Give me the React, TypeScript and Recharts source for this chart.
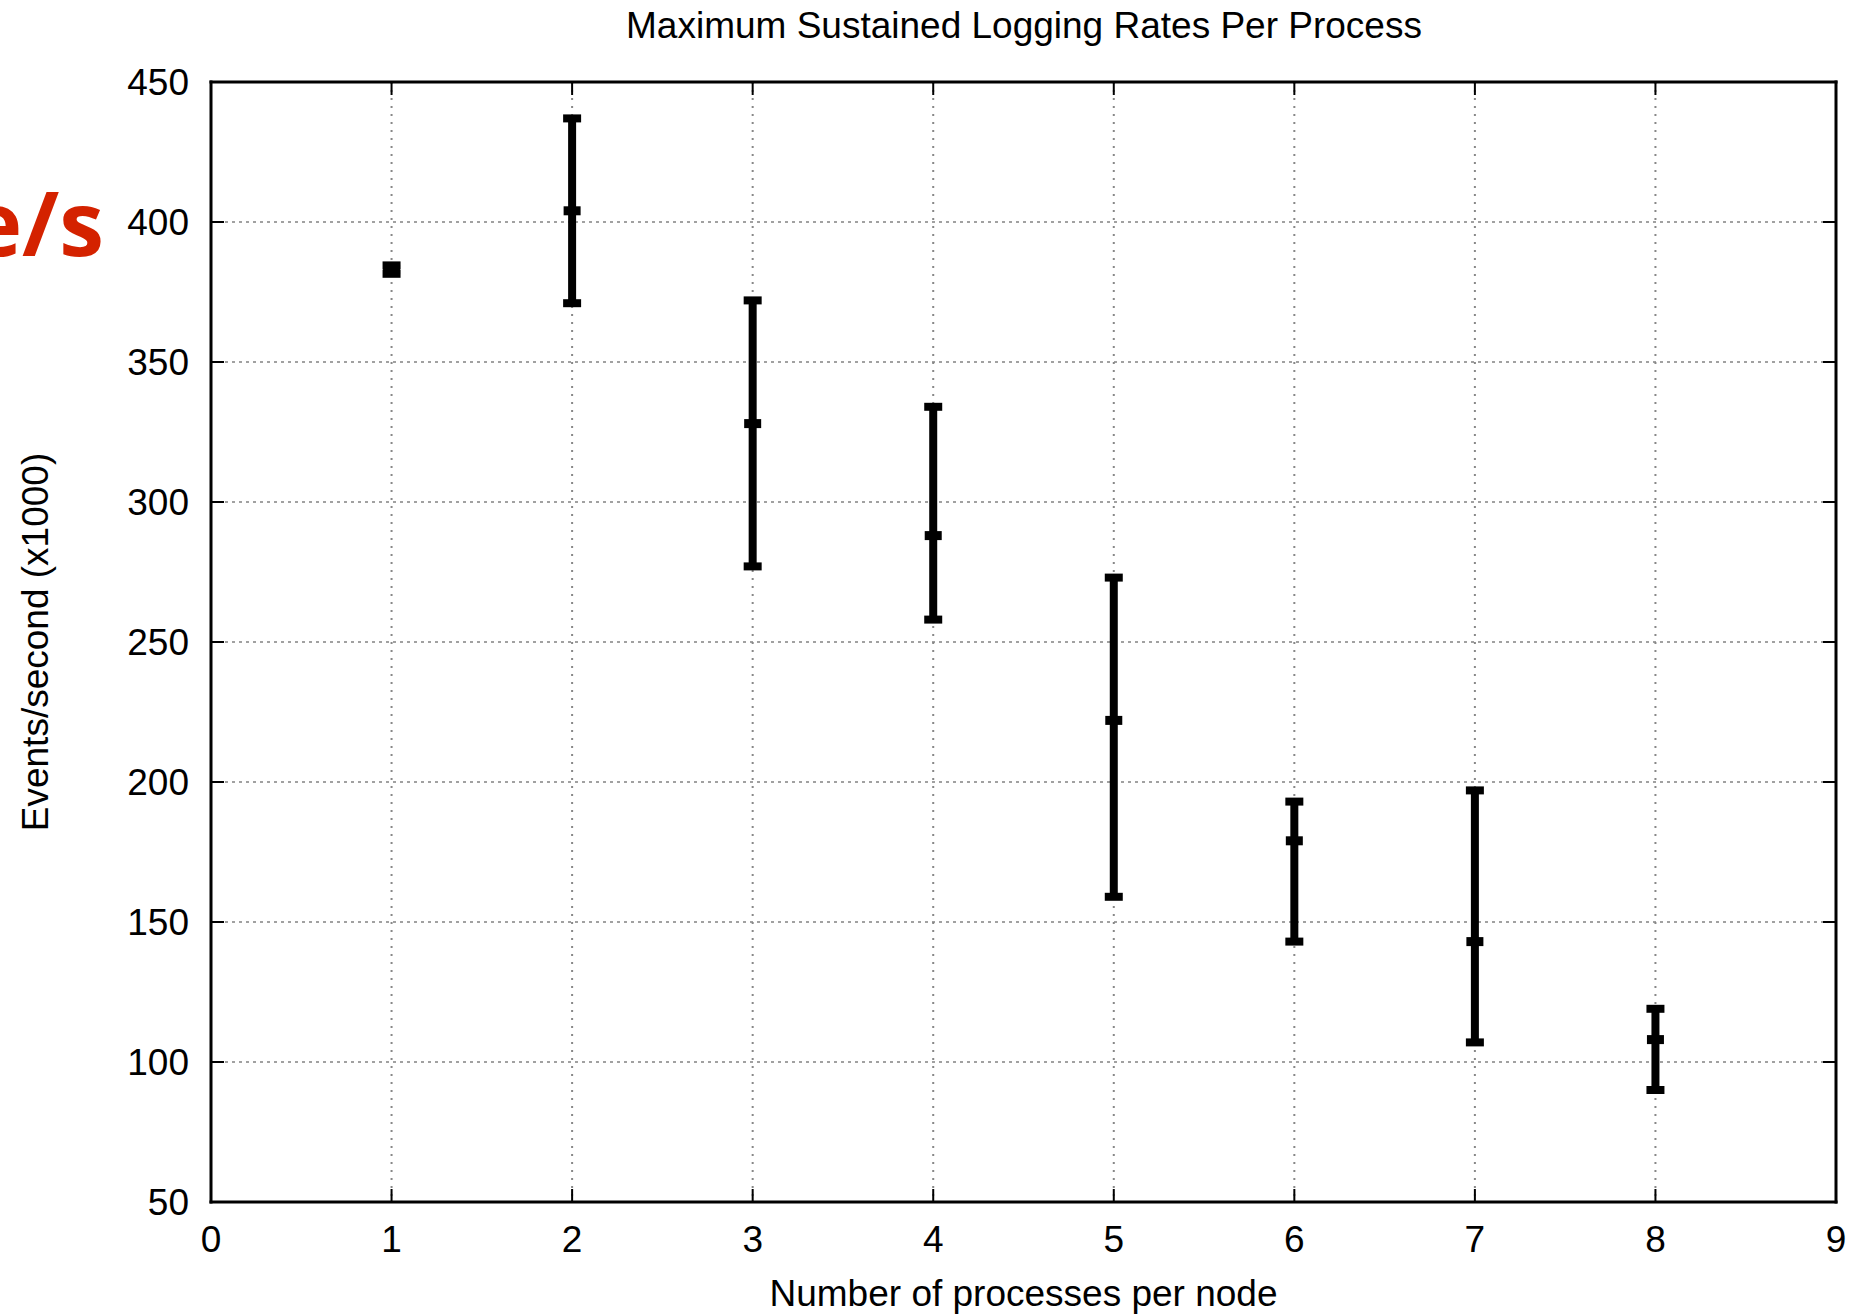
import { CartesianGrid, ComposedChart, ErrorBar, Scatter, XAxis, YAxis } from "recharts"

const processes = [1, 2, 3, 4, 5, 6, 7, 8]
const meanRate = [383, 404, 328, 288, 222, 179, 143, 108]
const minRate = [381.5, 371, 277, 258, 159, 143, 107, 90]
const maxRate = [384.5, 437, 372, 334, 273, 193, 197, 119]

const xTicks = [0, 1, 2, 3, 4, 5, 6, 7, 8, 9]
const yTicks = [50, 100, 150, 200, 250, 300, 350, 400, 450]

const title = "Maximum Sustained Logging Rates Per Process"
const xLabel = "Number of processes per node"
const yLabel = "Events/second (x1000)"

const data = processes.map((p, i) => ({
  x: p,
  y: meanRate[i],
  err: [meanRate[i] - minRate[i], maxRate[i] - meanRate[i]],
}))

const font = "'Liberation Sans', Arial, Helvetica, sans-serif"
const tickStyle = { fontSize: 37, fill: "#000", fontFamily: font }
const edge = { stroke: "#000", strokeWidth: 3, strokeLinecap: "square" as const }
const innerTick = { stroke: "#000", strokeWidth: 2 }
const blank = () => ""

const MeanMark = (props: any) => {
  const { cx, cy } = props
  if (cx == null || cy == null) return <g />
  return <rect x={cx - 8.5} y={cy - 4.5} width={17} height={9} fill="#000" />
}

const Nothing = () => <g />

export default function App() {
  return (
    <div style={{ position: "absolute", left: 0, top: 0, background: "#fff" }}>
      <ComposedChart
        width={1853}
        height={1316}
        data={data}
        margin={{ top: 82, right: 17, bottom: 0, left: 0 }}
      >
        <text
          x={1024}
          y={38}
          textAnchor="middle"
          fontSize={37}
          fontFamily={font}
          fill="#000"
        >
          {title}
        </text>
        <text
          x={104}
          y={256}
          textAnchor="end"
          fontSize={90}
          fontWeight={700}
          fontFamily="'Open Sans', 'DejaVu Sans', sans-serif"
          fill="#d42200"
        >
          e/s
        </text>
        <CartesianGrid
          horizontal
          vertical={false}
          stroke="#444"
          strokeWidth={1.2}
          strokeDasharray="3 4"
        />
        <CartesianGrid
          horizontal={false}
          vertical
          stroke="#888"
          strokeWidth={2}
          strokeDasharray="2 6"
        />
        <XAxis
          type="number"
          dataKey="x"
          domain={[0, 9]}
          ticks={xTicks}
          interval={0}
          allowDataOverflow
          height={114}
          tickSize={0}
          tickMargin={24}
          tick={tickStyle}
          axisLine={edge}
          tickLine={false}
          label={{
            value: xLabel,
            position: "insideBottom",
            offset: 10,
            fontSize: 37,
            fill: "#000",
            fontFamily: font,
          }}
        />
        <XAxis
          xAxisId="tickB"
          type="number"
          dataKey="x"
          domain={[0, 9]}
          ticks={xTicks}
          interval={0}
          allowDataOverflow
          orientation="bottom"
          mirror
          tickSize={13}
          tickFormatter={blank}
          axisLine={false}
          tickLine={innerTick}
        />
        <XAxis
          xAxisId="tickT"
          type="number"
          dataKey="x"
          domain={[0, 9]}
          ticks={xTicks}
          interval={0}
          allowDataOverflow
          orientation="top"
          mirror
          tickSize={13}
          tickFormatter={blank}
          axisLine={edge}
          tickLine={innerTick}
        />
        <YAxis
          type="number"
          domain={[50, 450]}
          ticks={yTicks}
          interval={0}
          allowDataOverflow
          width={211}
          tickSize={0}
          tickMargin={22}
          tick={tickStyle}
          axisLine={edge}
          tickLine={false}
          label={{
            content: (p: any) => {
              const vb = p.viewBox || { y: 82, height: 1120 }
              const cy = vb.y + vb.height / 2
              return (
                <text
                  x={48}
                  y={cy}
                  transform={`rotate(-90 48 ${cy})`}
                  textAnchor="middle"
                  fontSize={37}
                  fontFamily={font}
                  fill="#000"
                >
                  {yLabel}
                </text>
              )
            },
          }}
        />
        <YAxis
          yAxisId="tickL"
          type="number"
          dataKey="y"
          domain={[50, 450]}
          ticks={yTicks}
          interval={0}
          allowDataOverflow
          orientation="left"
          mirror
          tickSize={13}
          tickFormatter={blank}
          axisLine={false}
          tickLine={innerTick}
        />
        <YAxis
          yAxisId="tickR"
          type="number"
          dataKey="y"
          domain={[50, 450]}
          ticks={yTicks}
          interval={0}
          allowDataOverflow
          orientation="right"
          mirror
          tickSize={13}
          tickFormatter={blank}
          axisLine={edge}
          tickLine={innerTick}
        />
        <Scatter
          xAxisId="tickT"
          yAxisId="tickL"
          dataKey="y"
          shape={Nothing}
          legendType="none"
          isAnimationActive={false}
        />
        <Scatter
          xAxisId="tickB"
          yAxisId="tickR"
          dataKey="y"
          shape={Nothing}
          legendType="none"
          isAnimationActive={false}
        />
        <Scatter dataKey="y" fill="#000" shape={MeanMark} isAnimationActive={false}>
          <ErrorBar
            dataKey="err"
            direction="y"
            width={9}
            stroke="#000"
            strokeWidth={8}
            isAnimationActive={false}
          />
        </Scatter>
      </ComposedChart>
    </div>
  )
}
